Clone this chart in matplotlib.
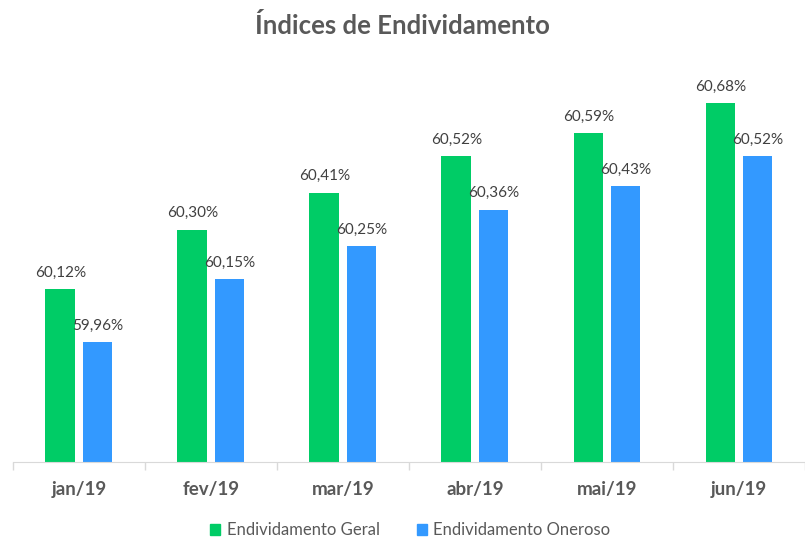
import matplotlib
matplotlib.use("Agg")
import matplotlib.pyplot as plt
import numpy as np
from matplotlib.patches import Patch

categories = ["jan/19", "fev/19", "mar/19", "abr/19", "mai/19", "jun/19"]
geral = [60.12, 60.30, 60.41, 60.52, 60.59, 60.68]
oneroso = [59.96, 60.15, 60.25, 60.36, 60.43, 60.52]
series_names = ["Endividamento Geral", "Endividamento Oneroso"]
colors = ["#00CC66", "#3399FF"]

plt.rcParams['font.family'] = ['Lato', 'DejaVu Sans']

fig = plt.figure(figsize=(8.05, 5.37), dpi=100)
ax = fig.add_axes([0.016, 0.1397, 0.984, 0.742])

x = np.arange(len(categories))
w = 0.225
off = 0.141
ymin = 59.6
ax.bar(x - off, np.array(geral) - ymin, w, bottom=ymin, color=colors[0])
ax.bar(x + off, np.array(oneroso) - ymin, w, bottom=ymin, color=colors[1])

def fmt(v):
    return f"{v:.2f}".replace(".", ",") + "%"

for xs, vals in ((x - off, geral), (x + off, oneroso)):
    for xi, v in zip(xs, vals):
        ax.annotate(fmt(v), (xi, v), xytext=(0, 7), textcoords="offset points",
                    ha="center", va="bottom", fontsize=11, color="#404040")

ax.set_xlim(-0.5, len(categories) - 0.5)
ax.set_ylim(ymin, 60.8)
ax.set_yticks([])
ax.set_xticks(np.arange(len(categories) + 1) - 0.5, minor=True)
ax.set_xticks(x)
ax.set_xticklabels(categories, fontsize=13.5, fontweight="bold", color="#595959")
ax.tick_params(axis="x", which="major", length=0, pad=14)
ax.tick_params(axis="x", which="minor", length=6, color="#D9D9D9", width=1)
for s in ["top", "right", "left"]:
    ax.spines[s].set_visible(False)
ax.spines["bottom"].set_color("#D9D9D9")

fig.suptitle("Índices de Endividamento", fontsize=18.5, fontweight="bold",
             color="#595959", y=0.975)

handles = [Patch(color=c) for c in colors]
fig.legend(handles, series_names, loc="lower center", ncol=2, frameon=False,
           bbox_to_anchor=(0.51, -0.03), fontsize=12, handlelength=0.6,
           handleheight=0.6, handletextpad=0.4, columnspacing=2.2,
           labelcolor="#595959")

fig.savefig("out.png", dpi=100)
